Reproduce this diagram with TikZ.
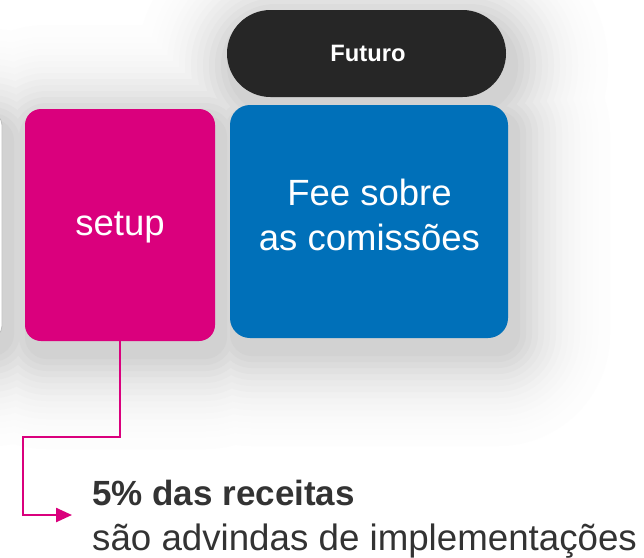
\documentclass[tikz,border=0pt]{standalone}
\usepackage{fontspec}
\setmainfont{Liberation Sans}
\usetikzlibrary{arrows.meta}
\definecolor{mag}{HTML}{DA007D}
\definecolor{blu}{HTML}{0070B9}
\definecolor{pill}{HTML}{262626}
\definecolor{txt}{HTML}{333333}
\tikzset{
  box/.style={inner sep=0pt, outer sep=0pt},
  lbl/.style={inner sep=0pt, anchor=base, text=white},
  conn/.style={draw=mag, line width=2.4pt, -{Triangle[length=16pt,width=14pt]}},
}
\begin{document}
\begin{tikzpicture}[x=1pt,y=-1pt]
\useasboundingbox (0,0) rectangle (644,557);
\fill[white] (0,0) rectangle (644,557);
% soft shadow
\begin{scope}
\clip (0,0) rectangle (644,557);
\foreach \k in {0,...,15}{
  \pgfmathsetmacro\e{(16-\k)*6}
  \pgfmathsetmacro\g{0.8+17*(\k/15)^2}
  \pgfmathsetmacro\r{16+\e}
  \pgfmathsetmacro\rp{43+\e}
  \fill[black!\g, rounded corners=\r pt]
    ({-220-\e+6},{113-\e+12}) rectangle ({2+\e+6},{338+\e+12})
    ({25-\e+6},{109-\e+12}) rectangle ({215+\e+6},{341+\e+12})
    ({230-\e+6},{105-\e+12}) rectangle ({508+\e+6},{338+\e+12});
  \fill[black!\g, rounded corners=\rp pt]
    ({227-\e+6},{10-\e+12}) rectangle ({506+\e+6},{97+\e+12});
}
\end{scope}
% left partial box
\node[box, fill=white, draw=black!25, line width=0.8pt, rounded corners=12pt,
      minimum width=222pt, minimum height=225pt] (prev) at (-109,225.5) {};
% setup box
\node[box, fill=mag, rounded corners=16pt, minimum width=190pt, minimum height=232pt] (setup) at (120,225) {};
\node[lbl, font=\fontsize{36.5}{44}\selectfont] (setupt) at (120,235) {setup};
% blue box
\node[box, fill=blu, rounded corners=20pt, minimum width=278pt, minimum height=233pt] (fee) at (369,221.5) {};
\node[lbl, font=\fontsize{36.5}{44}\selectfont] (fee1) at (369.5,205) {Fee sobre};
\node[lbl, font=\fontsize{36.5}{44}\selectfont] (fee2) at (369.5,250) {as comissões};
% pill
\node[box, fill=pill, rounded corners=43.5pt, minimum width=279pt, minimum height=87pt] (futuro) at (366.5,53.5) {};
\node[lbl, font=\fontsize{23.7}{28}\bfseries\selectfont] (futurot) at (368,61) {Futuro};
% bottom text
\node[inner sep=0pt, anchor=base west, text=txt, font=\fontsize{35}{42}\bfseries\selectfont] (t1) at (92,505.7) {5\% das receitas};
\node[inner sep=0pt, anchor=base west, text=txt, font=\fontsize{36.7}{44}\selectfont] (t2) at (92,550) {são advindas de implementações};
% connector
\coordinate (bend) at (23,437);
\coordinate (tip) at (72,515);
\draw[conn] (setup.south) |- (bend) |- (tip);
\end{tikzpicture}
\end{document}
